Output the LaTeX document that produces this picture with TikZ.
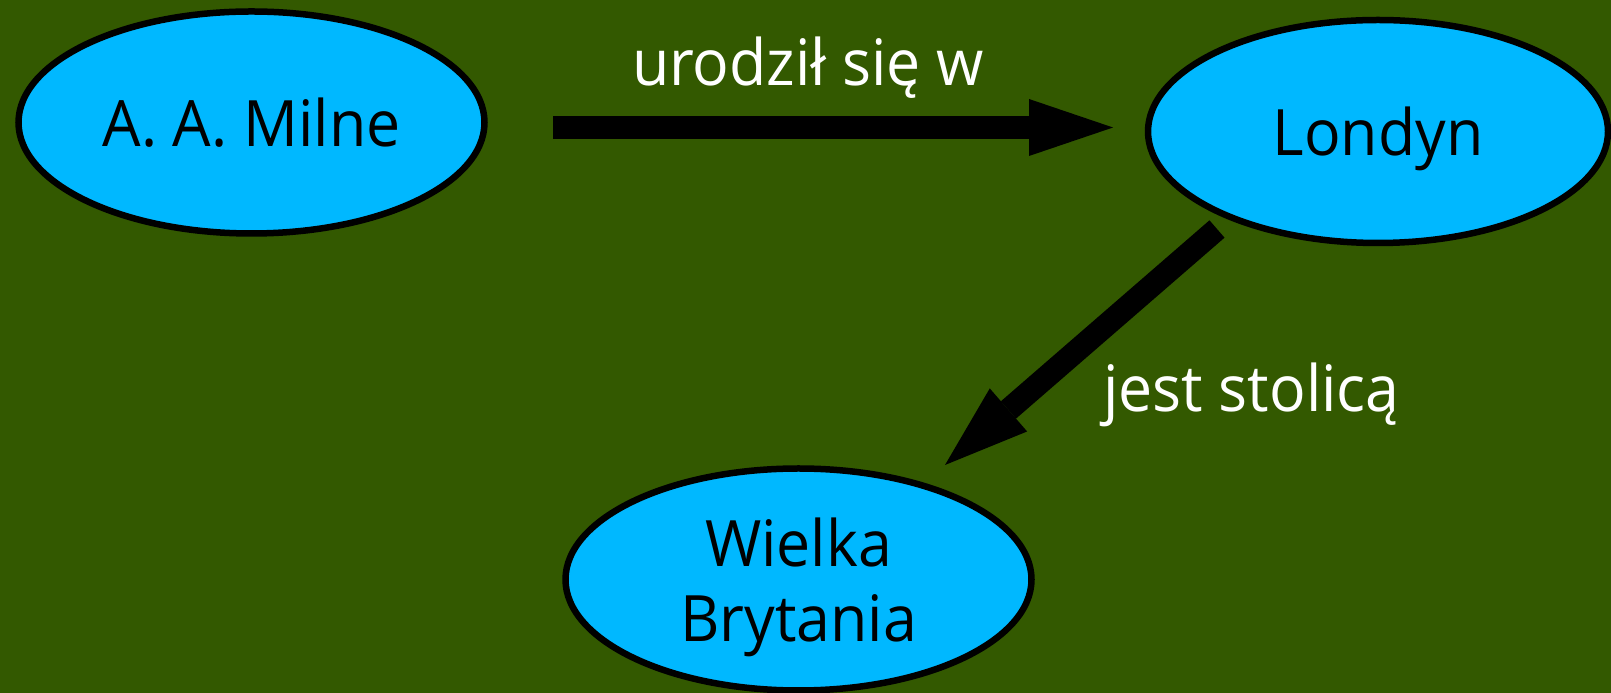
\documentclass[tikz,border=0pt]{standalone}
\usepackage{fontspec}
\setmainfont[FakeStretch=0.95]{Open Sans}
\usetikzlibrary{shapes.geometric,arrows.meta}
\definecolor{bggreen}{RGB}{51,89,0}
\definecolor{nodeblue}{RGB}{0,184,255}
\begin{document}
\begin{tikzpicture}[x=1pt,y=1pt,
  concept/.style={ellipse,draw=black,line width=6.5pt,fill=nodeblue,
    minimum width=466pt,minimum height=222pt,inner sep=0pt,align=center,
    font=\fontsize{64}{75}\selectfont,text depth=0pt},
  link/.style={line width=23pt,-{Triangle[length=84pt,width=57pt,line width=0pt]}},
  rel/.style={text=white,font=\fontsize{64}{75}\selectfont,anchor=base}]
% background
\fill[bggreen] (0,0) rectangle (1611,693);
\useasboundingbox (0,0) rectangle (1611,693);
% concepts
\node[concept] (milne) at (251.5,570.5) {A. A. Milne};
\node[concept,minimum width=460pt,minimum height=223pt] (londyn) at (1378,561.5) {Londyn};
\node[concept] (uk) at (798.5,113.5) {Wielka\\Brytania};
% relation ends
\coordinate (bornfrom) at (553,565.5);
\coordinate (bornto) at (1113,565.5);
\coordinate (capfrom) at (1217,464);
\coordinate (capto) at (945,228);
% relations
\draw[link] (bornfrom) -- (bornto);
\node[rel] (bornlabel) at (808,607) {urodził się w};
\draw[link] (capfrom) -- (capto);
\node[rel] (caplabel) at (1251.5,281) {jest stolicą};
\end{tikzpicture}
\end{document}
